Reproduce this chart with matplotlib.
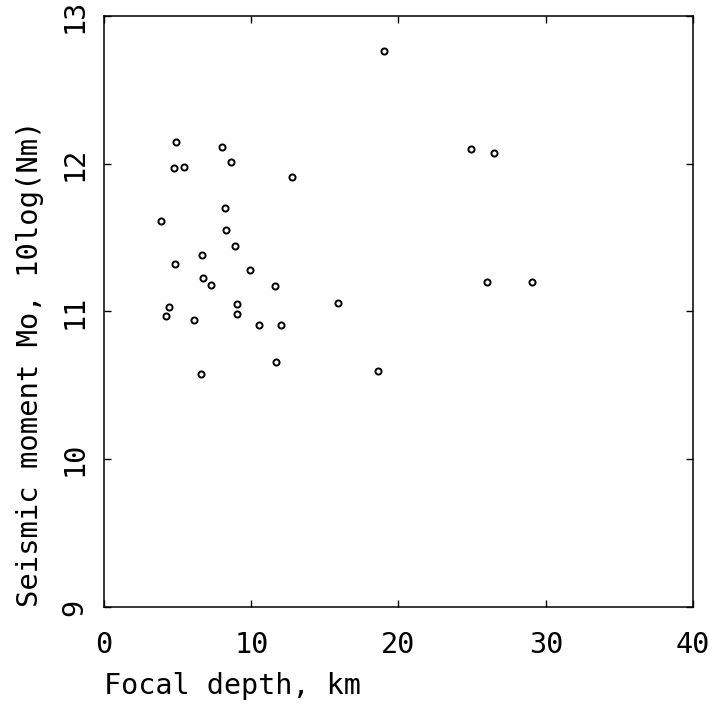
import matplotlib.pyplot as plt

# focal depth (km) and seismic moment (10log Nm)
depth = [4.9, 8.0, 4.75, 5.4, 8.6, 12.8, 8.2, 3.9, 8.3, 8.9, 6.65, 4.85,
         9.9, 6.75, 7.3, 11.6, 15.9, 4.4, 9.0, 4.2, 9.05, 6.1, 10.5, 12.0,
         11.7, 6.6, 18.6, 19.0, 24.9, 26.5, 26.0, 29.1]
moment = [12.15, 12.11, 11.97, 11.98, 12.01, 11.91, 11.70, 11.61, 11.55,
          11.44, 11.38, 11.32, 11.28, 11.23, 11.18, 11.17, 11.06, 11.03,
          11.05, 10.97, 10.98, 10.94, 10.91, 10.91, 10.66, 10.58, 10.60,
          12.76, 12.10, 12.07, 11.20, 11.20]

xticks = [0, 10, 20, 30, 40]
yticks = [9, 10, 11, 12, 13]

plt.rcParams['font.family'] = ['DejaVu Sans Mono']

fig = plt.figure(figsize=(7.09, 7.11), dpi=100)
ax = fig.add_axes([0.1467, 0.1463, 0.8307, 0.8312])

ax.plot(depth, moment, 'o', markersize=4.4, markerfacecolor='white',
        markeredgecolor='black', markeredgewidth=1.4)

ax.set_xlim(0, 40)
ax.set_ylim(9, 13)
ax.set_xticks(xticks)
ax.set_yticks(yticks)
ax.set_yticklabels([str(t) for t in yticks], rotation=90, va='center')
ax.tick_params(direction='in', length=5, width=1, top=True, right=True,
               labelsize=20.5, color='black')
ax.tick_params(axis='x', pad=17)
ax.tick_params(axis='y', pad=11)
for s in ax.spines.values():
    s.set_linewidth(1.1)

ax.set_xlabel("Focal depth, km", fontsize=20.5, loc='left', labelpad=10)
ax.set_ylabel("Seismic moment Mo, 10log(Nm)", fontsize=20.8, loc='bottom',
              labelpad=12)

fig.savefig("out.png", dpi=100)
